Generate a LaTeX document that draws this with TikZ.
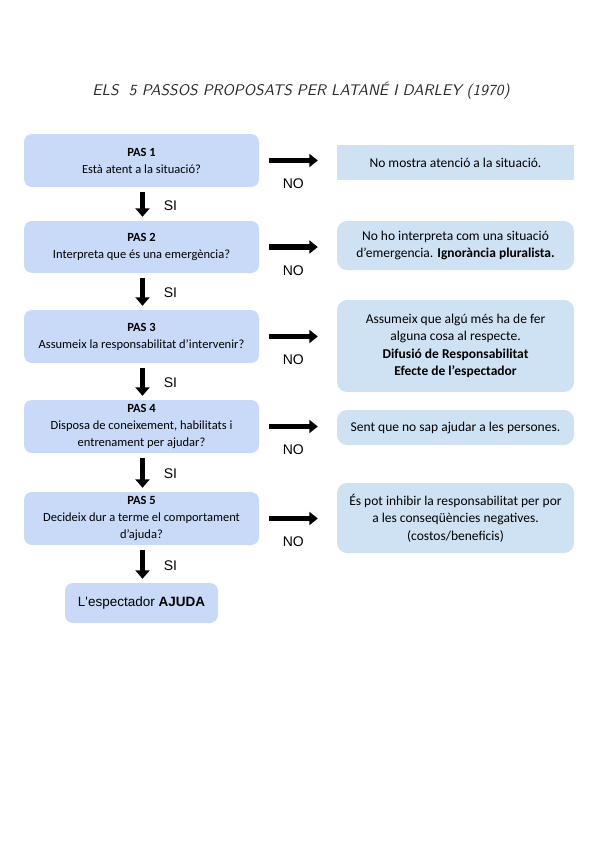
\documentclass[tikz,border=0pt]{standalone}
\usepackage{fontspec}
\setmainfont{Carlito}
\newfontfamily\arialf{Liberation Sans}
\usetikzlibrary{arrows.meta,calc}
\definecolor{leftblue}{HTML}{C9DAF8}
\definecolor{rightblue}{HTML}{CFE2F3}
\definecolor{titlegray}{HTML}{2A2A2A}
\tikzset{
  stepbox/.style={fill=leftblue, draw=none, rounded corners=8pt, minimum width=235pt, inner sep=0pt,
    align=center, font=\fontsize{12.5pt}{17pt}\selectfont},
  outbox/.style={fill=rightblue, draw=none, rounded corners=10pt, minimum width=237pt, inner sep=0pt,
    align=center, font=\fontsize{13.5pt}{17.5pt}\selectfont},
  rarrow/.style={line width=5.5pt, -{Triangle[length=8.5pt,width=13pt]}, shorten <=10pt, shorten >=19pt},
  darrow/.style={line width=5.5pt, -{Triangle[length=8.5pt,width=14pt]}, shorten <=5pt, shorten >=4pt},
  lbl/.style={font=\arialf\fontsize{14pt}{16pt}\selectfont, inner sep=0pt}
}
\begin{document}
\begin{tikzpicture}[x=1pt,y=-1pt]
\useasboundingbox (0,0) rectangle (599,848);
\node[text=titlegray, inner sep=0pt] (title) at (301,91)
  {\resizebox{417pt}{!}{\sffamily\itshape ELS~~5 PASSOS PROPOSATS PER LATANÉ I DARLEY (1970)}};

\node[stepbox, minimum height=53pt] (b1) at (141.5,160.5) {\textbf{PAS 1}\\Està atent a la situació?};
\node[stepbox, minimum height=52pt] (b2) at (141.5,247) {\textbf{PAS 2}\\Interpreta que és una emergència?};
\node[stepbox, minimum height=53pt] (b3) at (141.5,336.5) {\textbf{PAS 3}\\Assumeix la responsabilitat d’intervenir?};
\node[stepbox, minimum height=53pt] (b4) at (141.5,426.5) {\textbf{PAS 4}\\Disposa de coneixement, habilitats i\\entrenament per ajudar?};
\node[stepbox, minimum height=53pt] (b5) at (141.5,518.5) {\textbf{PAS 5}\\Decideix dur a terme el comportament\\d’ajuda?};
\node[stepbox, minimum width=153pt, minimum height=40pt, font=\arialf\fontsize{13.5pt}{16pt}\selectfont] (b6) at (141.5,603) {L'espectador \textbf{AJUDA}};

\node[outbox, rounded corners=0pt, minimum height=35pt] (r1) at (455.5,162.5) {No mostra atenció a la situació.};
\node[outbox, minimum height=49pt] (r2) at (455.5,245.5) {No ho interpreta com una situació\\d’emergencia. \textbf{Ignorància pluralista.}};
\node[outbox, minimum height=92pt] (r3) at (455.5,346) {Assumeix que algú més ha de fer\\alguna cosa al respecte.\\\textbf{Difusió de Responsabilitat}\\\textbf{Efecte de l’espectador}};
\node[outbox, minimum height=35pt] (r4) at (455.5,427.5) {Sent que no sap ajudar a les persones.};
\node[outbox, minimum height=70pt] (r5) at (455.5,518) {És pot inhibir la responsabilitat per por\\a les conseqüències negatives.\\(costos/beneficis)};

\foreach \i in {1,...,5}{
  \draw[rarrow] (b\i.east) -- node[lbl, pos=0.44, yshift=-23.5pt] {NO} (b\i.east -| r\i.west);
}
\foreach \i/\j in {1/2,2/3,3/4,4/5,5/6}{
  \draw[darrow] ([xshift=1pt]b\i.south) -- node[lbl, xshift=28pt, yshift=-1.5pt] {SI} ([xshift=1pt]b\j.north);
}
\end{tikzpicture}
\end{document}
